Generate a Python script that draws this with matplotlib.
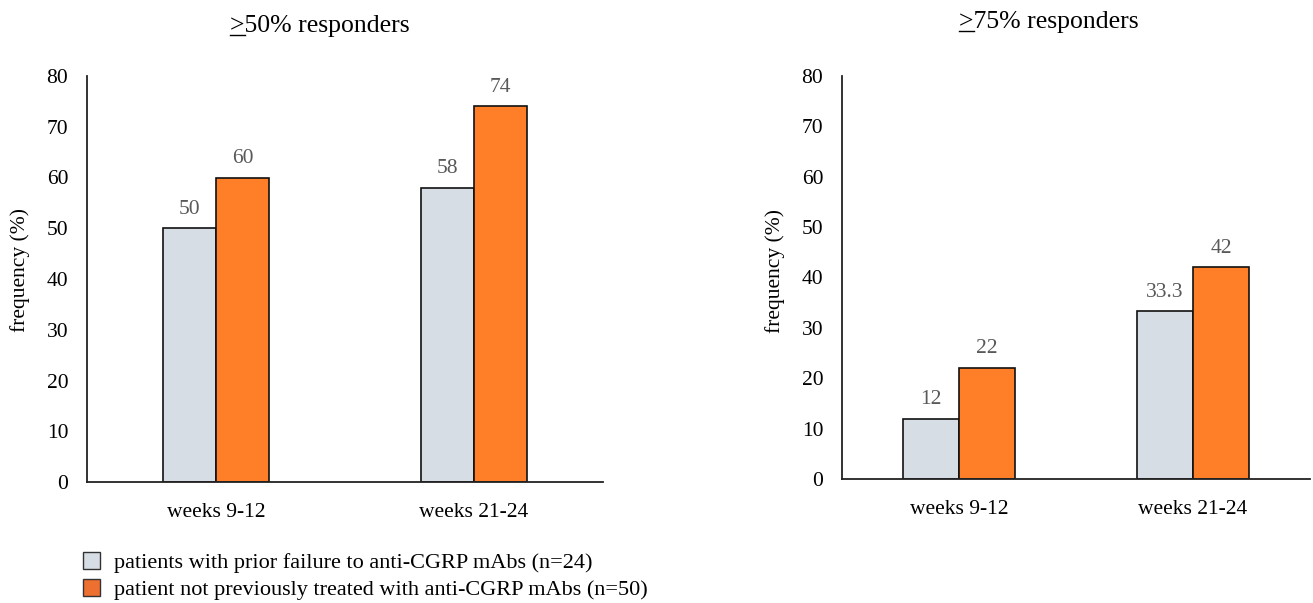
import matplotlib
matplotlib.use("Agg")
import matplotlib.pyplot as plt
import numpy as np
from matplotlib.patches import Patch
from matplotlib.lines import Line2D

plt.rcParams['font.family'] = ['Liberation Serif', 'DejaVu Serif']

categories = ["weeks 9-12", "weeks 21-24"]
series_names = ["patients with prior failure to anti-CGRP mAbs (n=24)",
                "patient not previously treated with anti-CGRP mAbs (n=50)"]
titles = [">50% responders", ">75% responders"]
resp50_prior = [50, 58]
resp50_naive = [60, 74]
resp75_prior = [12, 33.3]
resp75_naive = [22, 42]
yticks = [0, 10, 20, 30, 40, 50, 60, 70, 80]

c_gray = "#D6DDE4"
c_orange = "#FE7F27"
lab_color = "#595959"

W, H = 1313, 603
fig = plt.figure(figsize=(W / 100, H / 100), dpi=100)

def px(x0, y_top, x1, y_bot):
    return [x0 / W, 1 - y_bot / H, (x1 - x0) / W, (y_bot - y_top) / H]

def draw(ax, prior, naive, width, ylab_xy):
    x = np.arange(len(categories))
    b1 = ax.bar(x - width / 2, prior, width, color=c_gray, edgecolor="#111111", linewidth=1.2)
    b2 = ax.bar(x + width / 2, naive, width, color=c_orange, edgecolor="#111111", linewidth=1.2)
    for bars, vals in ((b1, prior), (b2, naive)):
        for r, v in zip(bars, vals):
            ax.annotate(f"{v:g}", (r.get_x() + r.get_width() / 2, r.get_height()),
                        xytext=(0, 7), textcoords="offset points", ha="center", va="bottom",
                        fontsize=15.5, color=lab_color)
    ax.set_xlim(-0.5, 1.5)
    ax.set_ylim(0, 80)
    ax.set_yticks(yticks)
    ax.set_xticks(x)
    ax.set_xticklabels(categories)
    ax.tick_params(axis="both", length=0, labelsize=15.5)
    ax.tick_params(axis="y", pad=13.5)
    ax.tick_params(axis="x", pad=15)
    for s in ("top", "right"):
        ax.spines[s].set_visible(False)
    for s in ("left", "bottom"):
        ax.spines[s].set_color("#222222")
        ax.spines[s].set_linewidth(1.3)
    ax.set_ylabel("frequency (%)", fontsize=15.5)
    ax.yaxis.set_label_coords(*ylab_xy)

ax1 = fig.add_axes(px(87, 76, 603, 482))
draw(ax1, resp50_prior, resp50_naive, 0.205, (-0.110, 0.521))
ax2 = fig.add_axes(px(842, 76, 1310, 479))
draw(ax2, resp75_prior, resp75_naive, 0.24, (-0.122, 0.517))

renderer = fig.canvas.get_renderer()
for (cx, base), title in zip(((320, 32), (1049, 28)), titles):
    t = fig.text(cx / W, 1 - base / H, title, ha="center", va="baseline", fontsize=18.5)
    bb = t.get_window_extent(renderer)
    g = fig.text(0, 0, title[0], fontsize=18.5)
    gw = g.get_window_extent(renderer).width
    g.remove()
    yl = (H - base - 3) / H
    fig.add_artist(Line2D([bb.x0 / W, (bb.x0 + gw) / W], [yl, yl], color="black", linewidth=1.0))

handles = [Patch(facecolor=c_gray, edgecolor="#333333"), Patch(facecolor="#EE7030", edgecolor="#333333")]
fig.legend(handles, series_names, loc="upper left", bbox_to_anchor=(83 / W, 1 - 552 / H),
           frameon=False, fontsize=16, handlelength=0.78, handleheight=0.78,
           handletextpad=0.6, labelspacing=0.28, borderaxespad=0, borderpad=0)

fig.savefig("out.png", dpi=100)
